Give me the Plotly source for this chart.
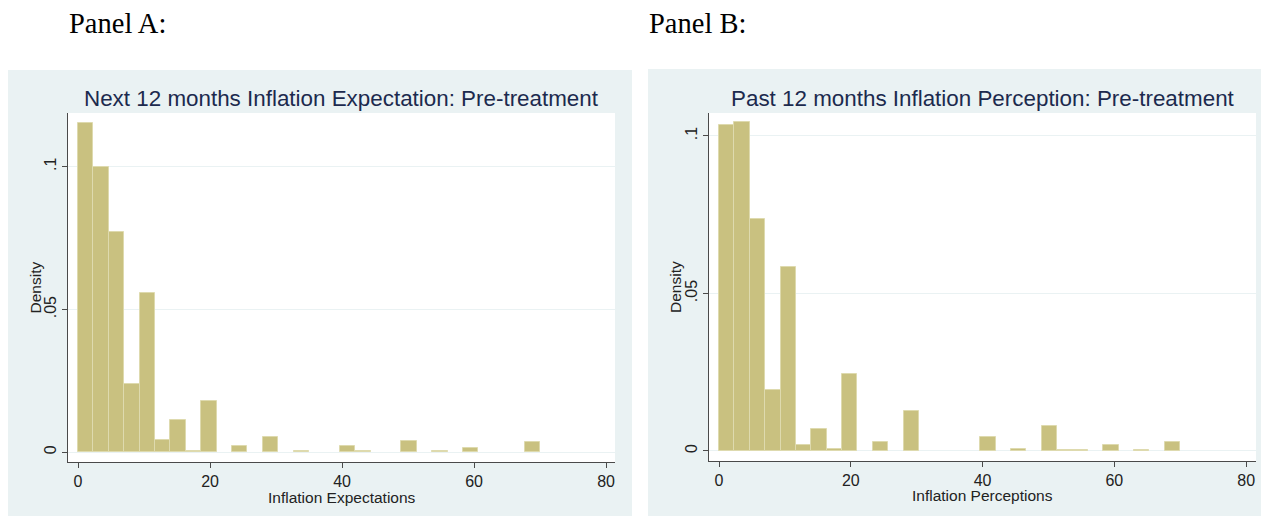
import plotly.graph_objects as go

# Histogram bins (Stata default: 30 bins over 0..70)
BIN_START = 0.0
BIN_END = 70.0
N_BINS = 30

# Density per bin
expectation_density = [
    0.1154, 0.1000, 0.0771, 0.0239, 0.0558, 0.0043, 0.0113, 0.0006, 0.0180, 0.0,
    0.0022, 0.0, 0.0055, 0.0, 0.0006, 0.0, 0.0, 0.0022, 0.0005, 0.0,
    0.0, 0.0039, 0.0, 0.0005, 0.0, 0.0014, 0.0, 0.0, 0.0, 0.0035,
]
perception_density = [
    0.1035, 0.1044, 0.0736, 0.0193, 0.0583, 0.0018, 0.0071, 0.0006, 0.0243, 0.0,
    0.0027, 0.0, 0.0127, 0.0, 0.0, 0.0, 0.0, 0.0045, 0.0, 0.0005,
    0.0, 0.0078, 0.0004, 0.0004, 0.0, 0.0020, 0.0, 0.0004, 0.0, 0.0028,
]

panel_labels = ["Panel A:", "Panel B:"]
titles = [
    "Next 12 months Inflation Expectation: Pre-treatment",
    "Past 12 months Inflation Perception: Pre-treatment",
]
x_titles = ["Inflation Expectations", "Inflation Perceptions"]
y_title = "Density"
x_ticks = [0, 20, 40, 60, 80]
y_ticks = [0, 0.05, 0.1]
y_tick_text = ["0", ".05", ".1"]

W, H = 1261, 516
BAR_FILL = "#C9C180"
BAR_EDGE = "#DEDAAE"
REGION = "#EAF2F3"
TITLE_COLOR = "#1C2A4E"
TEXT_COLOR = "#222222"
AXIS_COLOR = "#4A4A4A"


def px_x(v):
    return v / W


def px_y(v):
    return 1 - v / H


width = (BIN_END - BIN_START) / N_BINS

fig = go.Figure()

for i, dens in enumerate([expectation_density, perception_density]):
    xs, ys = [], []
    for k, d in enumerate(dens):
        if d > 0:
            xs.append(BIN_START + (k + 0.5) * width)
            ys.append(d)
    fig.add_trace(go.Bar(
        x=xs, y=ys, width=width,
        marker=dict(color=BAR_FILL, line=dict(color=BAR_EDGE, width=1)),
        xaxis="x" if i == 0 else "x2",
        yaxis="y" if i == 0 else "y2",
        showlegend=False, hoverinfo="x+y",
    ))

# Plot-region geometry (pixels) for each panel
panels = [
    dict(region=(8, 70, 632, 516), plot=(68, 113, 615, 462),
         xr=[-1.52, 81.36], yr=[-0.0034, 0.1188], label_x=67,
         ytitle_x=35, xtitle_y=497),
    dict(region=(648, 69, 1261, 516), plot=(709, 113, 1256, 461),
         xr=[-1.52, 81.5], yr=[-0.0032, 0.1073], label_x=647,
         ytitle_x=675, xtitle_y=495),
]

shapes = []
annotations = []
axis_common = dict(
    showline=True, linecolor=AXIS_COLOR, linewidth=1,
    ticks="outside", ticklen=5, tickcolor=AXIS_COLOR, tickwidth=1,
    tickfont=dict(family="Liberation Sans, Arial", size=16, color=TEXT_COLOR),
    zeroline=False, fixedrange=True,
)

for i, p in enumerate(panels):
    rx0, ry0, rx1, ry1 = p["region"]
    x0, y0, x1, y1 = p["plot"]
    shapes.append(dict(type="rect", xref="paper", yref="paper", layer="below",
                       x0=px_x(rx0), x1=px_x(rx1), y0=px_y(ry1), y1=px_y(ry0),
                       fillcolor=REGION, line=dict(width=0)))
    shapes.append(dict(type="rect", xref="paper", yref="paper", layer="below",
                       x0=px_x(x0), x1=px_x(x1), y0=px_y(y1), y1=px_y(y0),
                       fillcolor="white", line=dict(width=0)))
    sx = "" if i == 0 else "2"
    fig.layout["xaxis" + sx] = dict(
        axis_common, domain=[px_x(x0), px_x(x1)], range=p["xr"],
        anchor="y" + sx, tickvals=x_ticks, showgrid=False,
    )
    fig.layout["yaxis" + sx] = dict(
        axis_common, domain=[px_y(y1), px_y(y0)], range=p["yr"],
        anchor="x" + sx, tickvals=y_ticks, ticktext=y_tick_text,
        tickangle=-90, showgrid=True, gridcolor=REGION, gridwidth=1,
    )
    cx = (x0 + x1) / 2
    cy = (y0 + y1) / 2
    annotations += [
        dict(text=panel_labels[i], xref="paper", yref="paper",
             x=px_x(p["label_x"]), y=px_y(24), xanchor="left", yanchor="middle",
             showarrow=False,
             font=dict(family="Liberation Serif, Times New Roman", size=28.5, color="black")),
        dict(text=titles[i], xref="paper", yref="paper",
             x=px_x(cx), y=px_y(98), xanchor="center", yanchor="middle",
             showarrow=False,
             font=dict(family="Liberation Sans, Arial", size=22.4, color=TITLE_COLOR)),
        dict(text=x_titles[i], xref="paper", yref="paper",
             x=px_x(cx), y=px_y(p["xtitle_y"]), xanchor="center", yanchor="middle",
             showarrow=False,
             font=dict(family="Liberation Sans, Arial", size=15.5, color=TEXT_COLOR)),
        dict(text=y_title, xref="paper", yref="paper", textangle=-90,
             x=px_x(p["ytitle_x"]), y=px_y(cy), xanchor="center", yanchor="middle",
             showarrow=False,
             font=dict(family="Liberation Sans, Arial", size=15.5, color=TEXT_COLOR)),
    ]

fig.update_layout(
    width=W, height=H, margin=dict(l=0, r=0, t=0, b=0),
    paper_bgcolor="white", plot_bgcolor="rgba(0,0,0,0)",
    bargap=0, shapes=shapes, annotations=annotations, showlegend=False,
)

fig.write_html("out.html", config={"displayModeBar": False})
